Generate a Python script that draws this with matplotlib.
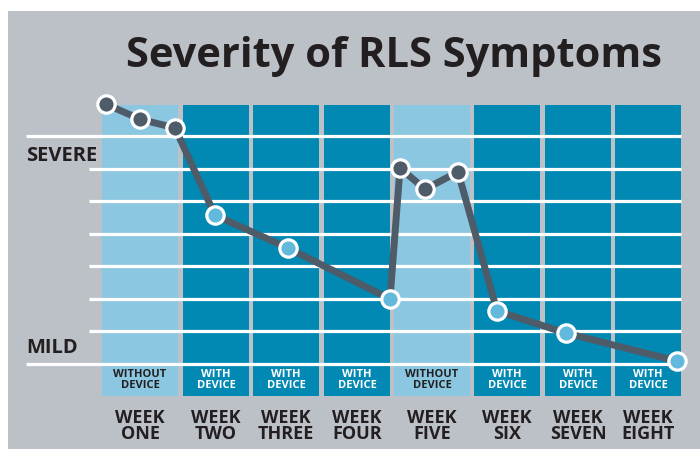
import matplotlib.pyplot as plt
from matplotlib.patches import Rectangle

plt.rcParams['font.family'] = ['Open Sans', 'DejaVu Sans']

# weeks and whether the device was worn
weeks = ['WEEK\nONE', 'WEEK\nTWO', 'WEEK\nTHREE', 'WEEK\nFOUR',
         'WEEK\nFIVE', 'WEEK\nSIX', 'WEEK\nSEVEN', 'WEEK\nEIGHT']
with_device = [False, True, True, True, False, True, True, True]
# column spans on the time axis (arbitrary units)
col_left = [0.0, 8.1, 15.1, 22.2, 29.2, 37.2, 44.3, 51.3]
col_right = [7.6, 14.7, 21.7, 28.8, 36.8, 43.8, 50.9, 57.9]

# severity readings (0 = mild, 7 = severe)
point_x = [0.4, 3.8, 7.3, 11.3, 18.6, 28.8, 29.8, 32.3, 35.6, 39.5, 46.4, 57.5]
severity = [7.98, 7.52, 7.25, 4.57, 3.56, 2.0, 6.02, 5.37, 5.9, 1.63, 0.95, 0.09]
point_device = [False, False, False, True, True, True,
                False, False, False, True, True, True]

dark_blue = '#0289b3'
light_blue = '#8cc7e1'
bg = '#bcc1c8'
line_col = '#4e5b68'
text_col = '#231f20'

fig = plt.figure(figsize=(7, 4.49), dpi=100)
fig.patch.set_facecolor('white')

ax = fig.add_axes([0, 0, 1, 1])
ax.set_xlim(-10.2, 59.8)
ax.set_ylim(-2.61, 11.18)
ax.axis('off')
ax.add_patch(Rectangle((8 / 700, 0), 1, (449 - 11) / 449,
                       transform=fig.transFigure, facecolor=bg,
                       edgecolor='none', zorder=0, clip_on=False))

# week columns
bottom = -0.98
top = 7.95
colors = [dark_blue if d else light_blue for d in with_device]
widths = [r - l for l, r in zip(col_left, col_right)]
ax.bar(col_left, top - bottom, width=widths, bottom=bottom, align='edge',
       color=colors, zorder=1)

# grid lines
for lvl in range(8):
    start = -7.6 if lvl in (0, 7) else -1.3
    ax.hlines(lvl, start, 57.9, color='white', lw=2.3, zorder=2)

ax.text(-7.6, 6.4, 'SEVERE', fontsize=14.5, fontweight='bold',
        color=text_col, va='center', ha='left')
ax.text(-7.6, 0.5, 'MILD', fontsize=14.5, fontweight='bold',
        color=text_col, va='center', ha='left')

# severity line
ax.plot(point_x, severity, color=line_col, lw=5, zorder=3,
        solid_capstyle='round', solid_joinstyle='round')
for x, y, d in zip(point_x, severity, point_device):
    ax.plot(x, y, 'o', ms=12.5, mfc='#62b9dc' if d else line_col,
            mec='white', mew=2.3, zorder=4, clip_on=False)

# labels
for l, r, w, d in zip(col_left, col_right, weeks, with_device):
    cx = (l + r) / 2
    ax.text(cx, -0.5, 'WITH\nDEVICE' if d else 'WITHOUT\nDEVICE',
            ha='center', va='center', fontsize=8, fontweight='bold',
            color='white' if d else text_col, linespacing=1.05, zorder=5)
    ax.text(cx, -1.9, w, ha='center', va='center', fontsize=13,
            fontweight='bold', color=text_col, linespacing=0.9)

ax.text(29.15, 9.45, 'Severity of RLS Symptoms', ha='center', va='center',
        fontsize=30, fontweight='bold', color=text_col)

fig.savefig('out.png', dpi=100)
